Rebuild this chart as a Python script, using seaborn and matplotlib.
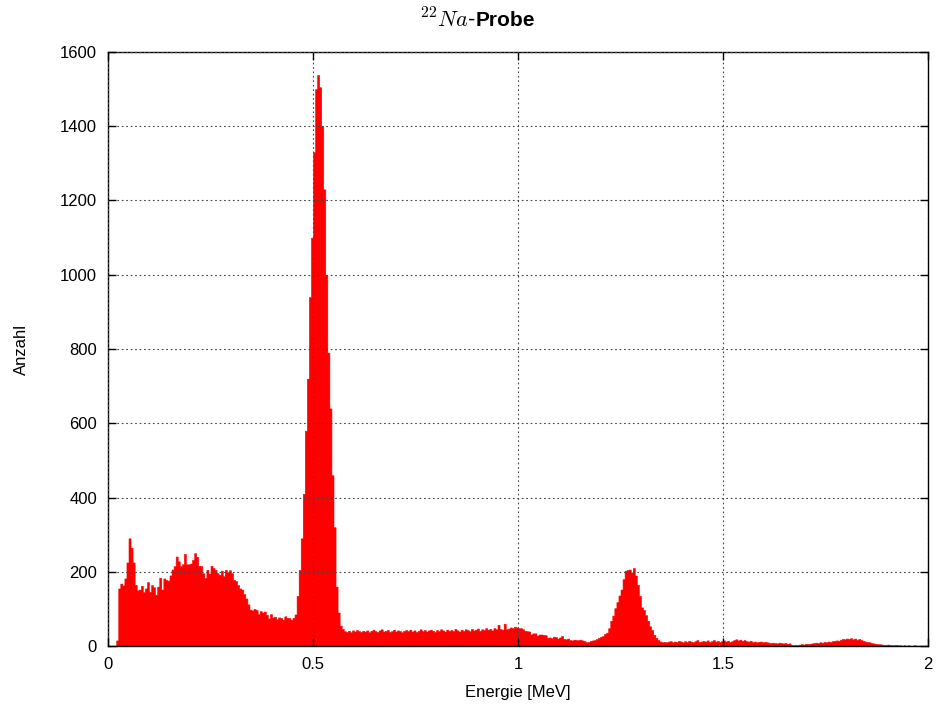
import numpy as np
import pandas as pd
import matplotlib
matplotlib.use("Agg")
import matplotlib.pyplot as plt
import seaborn as sns

# ---- data: counts per 0.005 MeV channel, 0 .. 2 MeV ----
bin_width = 0.005
low_energy_counts = [  # 0.000 - 0.470 MeV
    0, 0, 0, 0,
    15, 155, 168, 163, 182, 225, 290, 265, 225, 165,
    150, 152, 162, 145, 155, 172, 146, 164, 158, 138,
    160, 184, 152, 182, 178, 176, 190, 206, 215, 241,
    228, 215, 220, 248, 220, 220, 222, 232, 250, 240,
    216, 215, 196, 183, 205, 195, 216, 210, 205, 196,
    192, 203, 188, 205, 198, 204, 196, 178, 175, 164,
    155, 152, 140, 128, 112, 98, 96, 100, 97, 86,
    94, 90, 93, 84, 74, 86, 77, 79, 72, 77,
    75, 71, 80, 76, 75, 71, 76, 85, 135, 205,
]
annihilation_peak_counts = [  # 0.470 - 0.575 MeV
    290, 410, 580, 720, 940, 1100, 1330, 1500, 1538, 1505,
    1400, 1230, 1000, 790, 640, 460, 320, 160, 90, 55,
    46,
]
compton_counts = [  # 0.575 - 1.000 MeV
    40, 38, 41, 37, 42, 39, 43, 40, 38, 41,
    39, 42, 37, 41, 44, 40, 38, 42, 45, 39,
    41, 43, 38, 40, 44, 39, 42, 40, 37, 41,
    43, 40, 44, 39, 42, 38, 41, 45, 40, 43,
    39, 42, 44, 41, 38, 43, 40, 45, 42, 39,
    44, 41, 43, 40, 46, 42, 39, 44, 41, 45,
    43, 40, 46, 42, 44, 47, 41, 45, 43, 48,
    44, 46, 42, 48, 45, 57, 46, 44, 60, 45,
    47, 50, 48, 52, 50,
]
gamma_1274_counts = [  # 1.000 - 1.355 MeV
    48, 48, 45, 41, 40, 39, 31, 34, 34, 28,
    31, 31, 30, 29, 22, 23, 21, 25, 24, 20,
    23, 27, 19, 18, 20, 16, 15, 17, 16, 16,
    17, 15, 13, 10, 11, 14, 15, 16, 19, 22,
    25, 27, 33, 36, 48, 68, 82, 102, 118, 136,
    152, 180, 203, 205, 206, 198, 210, 190, 165, 135,
    104, 97, 83, 68, 53, 43, 30, 22, 16, 12,
    10,
]
high_energy_counts = [  # 1.355 - 2.000 MeV
    11, 10, 12, 13, 10, 12, 11, 14, 12, 10,
    13, 11, 14, 12, 10, 13, 16, 11, 12, 14,
    12, 15, 11, 13, 16, 12, 14, 11, 13, 15,
    12, 14, 11, 13, 16, 18, 15, 17, 14, 16,
    13, 12, 14, 11, 12, 10, 11, 12, 10, 11,
    10, 9, 8, 9, 8, 7, 9, 8, 7, 8,
    6, 7, 3, 2, 3, 2, 4, 5, 4, 6,
    5, 6, 7, 8, 9, 8, 10, 9, 11, 10,
    12, 11, 13, 14, 15, 14, 17, 19, 18, 20,
    19, 21, 18, 20, 17, 19, 16, 14, 12, 11,
    10, 8, 7, 6, 5, 5, 4, 3, 3, 4,
    3, 2, 2, 3, 2, 2, 1, 2, 1, 2,
    1, 1, 2, 1, 1, 1, 0, 1, 1,
]
x_ticks = [0, 0.5, 1, 1.5, 2]
x_tick_labels = ["0", "0.5", "1", "1.5", "2"]
y_ticks = [0, 200, 400, 600, 800, 1000, 1200, 1400, 1600]

counts = np.array(low_energy_counts + annihilation_peak_counts + compton_counts
                  + gamma_1274_counts + high_energy_counts, dtype=float)
n_bins = len(counts)
centers = (np.arange(n_bins) + 0.5) * bin_width
df = pd.DataFrame({"Energie": centers, "Anzahl": counts})

# ---- style ----
sns.set_style("ticks")
plt.rcParams["font.family"] = ["Liberation Sans", "DejaVu Sans"]
plt.rcParams["mathtext.fontset"] = "cm"
plt.rcParams["text.color"] = "black"
plt.rcParams["axes.labelcolor"] = "black"

fig = plt.figure(figsize=(9.36, 7.06), dpi=100)
ax = fig.add_axes([108 / 936, 1 - 646 / 706, 820 / 936, 594 / 706])

sns.histplot(data=df, x="Energie", weights="Anzahl", bins=n_bins,
             binrange=(0, n_bins * bin_width),
             element="step", fill=True, color="#ff0000", alpha=1.0,
             linewidth=0.4, edgecolor="#ff0000", ax=ax)

ax.set_xlim(0, 2)
ax.set_ylim(0, 1600)
ax.set_xticks(x_ticks)
ax.set_xticklabels(x_tick_labels)
ax.set_yticks(y_ticks)
ax.grid(True, which="major", linestyle=(0, (1.5, 2.5)), color="#444444",
        linewidth=0.8)
ax.set_axisbelow(False)
ax.tick_params(direction="in", length=6, width=1, top=True, right=True,
               labelsize=12, colors="black", pad=8)
for sp in ax.spines.values():
    sp.set_visible(True)
    sp.set_linewidth(1.0)
    sp.set_color("black")

ax.set_xlabel("Energie [MeV]", fontsize=12, labelpad=9, color="black")
ax.set_ylabel("Anzahl", fontsize=12, labelpad=22, color="black")

fig.text(476 / 936, 1 - 20 / 706, r"$^{22}Na$-", ha="right", va="center",
         fontsize=16, color="black")
fig.text(476 / 936, 1 - 20 / 706, "Probe", ha="left", va="center",
         fontsize=15, fontweight="bold", color="black")

fig.savefig("out.png", dpi=100)
